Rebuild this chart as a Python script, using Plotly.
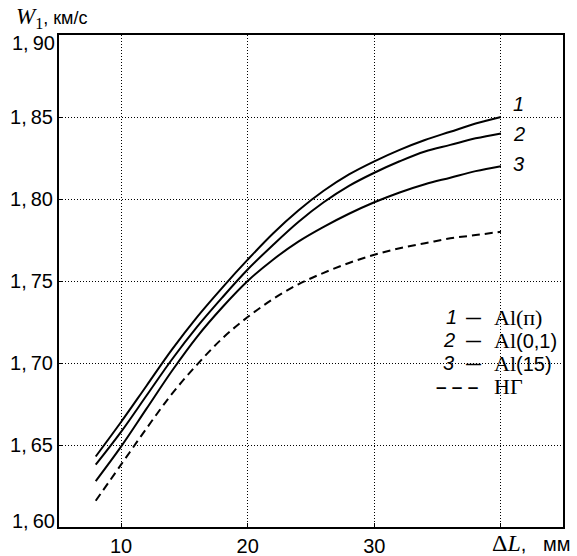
import plotly.graph_objects as go

# ---- data ----
x_mm = [8, 10, 12, 14, 16, 18, 20, 22, 24, 26, 28, 30, 32, 34, 36, 38, 40]
w_al_p = [1.643, 1.664, 1.686, 1.708, 1.728, 1.746, 1.763, 1.779, 1.793, 1.805,
          1.815, 1.823, 1.830, 1.836, 1.841, 1.846, 1.850]
w_al_01 = [1.638, 1.658, 1.680, 1.702, 1.722, 1.740, 1.757, 1.772, 1.786, 1.798,
           1.808, 1.816, 1.823, 1.829, 1.833, 1.837, 1.840]
w_al_15 = [1.628, 1.649, 1.672, 1.695, 1.716, 1.734, 1.750, 1.763, 1.774, 1.783,
           1.791, 1.798, 1.804, 1.809, 1.813, 1.817, 1.820]
w_ng = [1.616, 1.638, 1.660, 1.681, 1.699, 1.715, 1.728, 1.739, 1.748, 1.755,
        1.761, 1.766, 1.770, 1.773, 1.776, 1.778, 1.780]

y_ticks = [1.60, 1.65, 1.70, 1.75, 1.80, 1.85, 1.90]
y_tick_text = ["1,\u200960", "1,\u200965", "1,\u200970", "1,\u200975", "1,\u200980", "1,\u200985", "1,\u200990"]
x_ticks = [10, 20, 30, 40]
x_tick_text = ["10", "20", "30", ""]
curve_numbers = ["1", "2", "3"]
legend_base = ["Al", "Al", "Al", "НГ"]
legend_rest = ["(п)", "(0,1)", "(15)", ""]

SANS = "Liberation Sans, Arial, sans-serif"
SERIF = "Liberation Serif, Times New Roman, serif"
FS = 20

W, H = 577, 556
L, R, T, B = 59, 14, 35, 29
PW, PH = W - L - R, H - T - B


def px(x):
    return (x - L) / PW


def py(y):
    return (H - B - y) / PH


def txt(x, y, text, family=SANS, size=FS, xanchor="left"):
    return dict(x=px(x), y=py(y), xref="paper", yref="paper", text=text, showarrow=False,
                xanchor=xanchor, yanchor="middle", font=dict(family=family, size=size, color="black"))


fig = go.Figure()
for ys in (w_al_p, w_al_01, w_al_15):
    fig.add_trace(go.Scatter(x=x_mm, y=ys, mode="lines", line=dict(color="black", width=2, shape="spline"),
                             showlegend=False, hoverinfo="skip"))
fig.add_trace(go.Scatter(x=x_mm, y=w_ng, mode="lines",
                         line=dict(color="black", width=2, dash="8px,5px", shape="spline"),
                         showlegend=False, hoverinfo="skip"))

ann = []
# curve numbers at the right ends
for i, lab in enumerate(curve_numbers):
    ann.append(txt(511, [104, 134, 164][i], "<i>%s</i>" % lab))

# legend text
rows_y = [317, 340, 363, 386]
num_x = [444, 441, 441]
for i in range(3):
    ann.append(txt(num_x[i], rows_y[i], "<i>%s</i>" % curve_numbers[i]))
    ann.append(txt(473, rows_y[i], "<b>—</b>", size=15, xanchor="center"))
    rest_font = SERIF if i == 0 else SANS
    rest_size = 22 if i == 0 else 20
    ann.append(txt(492, rows_y[i],
                   "%s<span style='font-family:%s;font-size:%dpx'>%s</span>"
                   % (legend_base[i], rest_font, rest_size, legend_rest[i]),
                   family=SERIF, size=22))
ann.append(txt(457, rows_y[3], "<b>– – –</b>", size=19, xanchor="center"))
ann.append(txt(492, rows_y[3], legend_base[3], family=SERIF, size=22))

# axis titles
ann.append(txt(14, 18, "<span style='font-family:%s;font-size:23px'><i>W</i><sub>1</sub></span>, км/с" % SERIF,
               size=18))
ann.append(txt(490, 543, "<span style='font-family:%s;font-size:24px'>Δ<i>L</i></span>,\u00a0\u00a0\u00a0мм" % SERIF,
               size=20))

# end y tick labels shifted inward
for yv, tt, sh in ((y_ticks[0], y_tick_text[0], 6), (y_ticks[-1], y_tick_text[-1], -8)):
    ann.append(dict(x=px(57), y=yv, xref="paper", yref="y", text=tt, showarrow=False,
                    xanchor="right", yanchor="middle", yshift=sh,
                    font=dict(family=SANS, size=FS, color="black")))

y_text_mid = [t if 0 < i < len(y_tick_text) - 1 else "" for i, t in enumerate(y_tick_text)]

axis_common = dict(showgrid=True, gridcolor="black", gridwidth=1, griddash="1px,2px",
                   zeroline=False, showline=True, linecolor="black", linewidth=2, mirror=True,
                   ticks="inside", ticklen=4, tickcolor="black", tickwidth=1, automargin=False,
                   tickfont=dict(family=SANS, size=FS, color="black"))

fig.update_layout(
    template="none",
    width=W, height=H,
    margin=dict(l=L, r=R, t=T, b=B, pad=0),
    paper_bgcolor="white", plot_bgcolor="white",
    showlegend=False,
    annotations=ann,
    font=dict(family=SANS, size=FS, color="black"),
    xaxis=dict(range=[5.1, 44.9], tickvals=x_ticks, ticktext=x_tick_text, **axis_common),
    yaxis=dict(range=[1.60, 1.90], tickvals=y_ticks, ticktext=y_text_mid, **axis_common),
)

fig.write_html("out.html", config={"displayModeBar": False},
               post_script="document.body.style.margin='0';")
